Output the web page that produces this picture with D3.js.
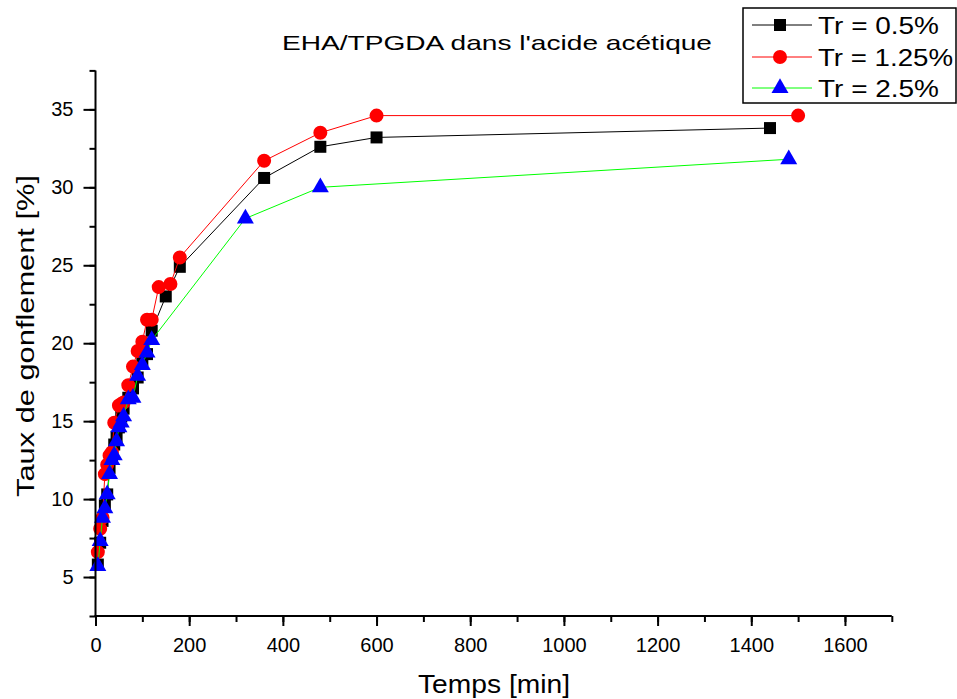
<!DOCTYPE html>
<html>
<head>
<meta charset="utf-8">
<script src="https://cdn.jsdelivr.net/npm/d3@7"></script>
<style>
  body { margin: 0; background: #fff; }
  text { font-family: "Liberation Sans", Arial, sans-serif; fill: #000; }
</style>
</head>
<body>
<svg id="chart" width="957" height="699"></svg>
<script>
// ---- data ----
const title = "EHA/TPGDA dans l'acide acétique";
const xLabel = "Temps [min]";
const yLabel = "Taux de gonflement [%]";
const seriesNames = ["Tr = 0.5%", "Tr = 1.25%", "Tr = 2.5%"];

const timeA = [5, 10, 15, 20, 25, 30, 35, 40, 45, 50, 55, 60, 70, 80, 90, 100, 110, 120, 150, 180, 360, 480, 600, 1440];
const valA  = [5.8, 7.2, 8.6, 9.6, 10.3, 12.0, 12.6, 13.5, 14.0, 14.6, 15.3, 15.8, 16.5, 17.1, 17.8, 18.9, 19.3, 20.8, 23.0, 24.9, 30.6, 32.6, 33.2, 33.8];

const timeB = [5, 10, 15, 20, 25, 30, 35, 40, 50, 55, 60, 70, 80, 90, 100, 110, 120, 135, 160, 180, 360, 480, 600, 1500];
const valB  = [6.6, 8.1, 8.8, 11.6, 12.2, 12.8, 13.0, 14.9, 16.0, 16.1, 16.2, 17.3, 18.5, 19.5, 20.1, 21.5, 21.5, 23.6, 23.8, 25.5, 31.7, 33.5, 34.6, 34.6];

const timeC = [5, 10, 15, 20, 25, 30, 35, 40, 45, 50, 55, 60, 70, 80, 90, 100, 110, 120, 320, 480, 1480];
const valC  = [5.7, 7.3, 8.8, 9.4, 10.3, 11.6, 12.5, 12.8, 13.7, 14.6, 14.9, 15.3, 16.4, 16.5, 17.9, 18.6, 19.4, 20.2, 28.0, 30.0, 31.8];

const xMajorTicks = [0, 200, 400, 600, 800, 1000, 1200, 1400, 1600];
const yMajorTicks = [5, 10, 15, 20, 25, 30, 35];

// ---- layout ----
const svg = d3.select("#chart");
const x = d3.scaleLinear().domain([0, 1700]).range([95.5, 891.8]);
const y = d3.scaleLinear().domain([2.5, 37.5]).range([616, 70.4]);

const series = [
  {name: seriesNames[0], t: timeA, v: valA, line: "#000000", fill: "#000000", sym: d3.symbolSquare, size: 144},
  {name: seriesNames[1], t: timeB, v: valB, line: "#ff0000", fill: "#ff0000", sym: d3.symbolCircle, size: 154},
  {name: seriesNames[2], t: timeC, v: valC, line: "#00ff00", fill: "#0000ff", sym: d3.symbolTriangle, size: 125}
];

// series
const lineGen = d3.line().x(d => x(d[0])).y(d => y(d[1]));
series.forEach(s => {
  const pts = s.t.map((t, i) => [t, s.v[i]]);
  const g = svg.append("g");
  g.append("path").attr("d", lineGen(pts)).attr("fill", "none")
    .attr("stroke", s.line).attr("stroke-width", 1);
  g.selectAll("path.m").data(pts).enter().append("path").attr("class", "m")
    .attr("d", d3.symbol().type(s.sym).size(s.size))
    .attr("transform", d => `translate(${x(d[0])},${y(d[1])})`)
    .attr("fill", s.fill);
});

// axes
function styleAxis(g) {
  g.select(".domain").remove();
  g.selectAll(".tick line").attr("stroke", "#000").attr("stroke-width", 2);
  g.selectAll(".tick text").style("font-size", "20px").style("font-family", "Liberation Sans, Arial, sans-serif");
}
const xMinor = d3.range(0, 1701, 100);
const yMinor = d3.range(2.5, 37.6, 2.5);

svg.append("g").attr("transform", "translate(0,616)")
  .call(d3.axisBottom(x).tickValues(xMinor).tickSize(6).tickFormat(""))
  .call(styleAxis);
svg.append("g").attr("transform", "translate(0,616)")
  .call(d3.axisBottom(x).tickValues(xMajorTicks).tickSize(10).tickPadding(12).tickFormat(d3.format("d")))
  .call(styleAxis);

svg.append("g").attr("transform", "translate(95.5,0)")
  .call(d3.axisLeft(y).tickValues(yMinor).tickSize(6).tickFormat(""))
  .call(styleAxis);
svg.append("g").attr("transform", "translate(95.5,0)")
  .call(d3.axisLeft(y).tickValues(yMajorTicks).tickSize(12).tickPadding(10).tickFormat(d3.format("d")))
  .call(styleAxis);

svg.append("line").attr("x1", x(0) - 1).attr("x2", x(1700)).attr("y1", 616).attr("y2", 616)
  .attr("stroke", "#000").attr("stroke-width", 2);
svg.append("line").attr("x1", 95.5).attr("x2", 95.5).attr("y1", y(37.5)).attr("y2", 617)
  .attr("stroke", "#000").attr("stroke-width", 2);

// titles
svg.append("text").attr("x", 497).attr("y", 50).attr("text-anchor", "middle")
  .style("font-size", "21px").attr("textLength", 430).attr("lengthAdjust", "spacingAndGlyphs")
  .text(title);
svg.append("text").attr("x", 494).attr("y", 693).attr("text-anchor", "middle")
  .style("font-size", "25px").attr("textLength", 152).attr("lengthAdjust", "spacingAndGlyphs")
  .text(xLabel);
svg.append("text").attr("transform", "translate(34,336) rotate(-90)").attr("text-anchor", "middle")
  .style("font-size", "23px").attr("textLength", 322).attr("lengthAdjust", "spacingAndGlyphs")
  .text(yLabel);

// legend
const lg = svg.append("g");
lg.append("rect").attr("x", 743).attr("y", 8).attr("width", 213).attr("height", 95)
  .attr("fill", "#fff").attr("stroke", "#000").attr("stroke-width", 1.5);
const rowY = [25, 57, 88];
const textLen = [121, 135, 121];
series.forEach((s, i) => {
  lg.append("line").attr("x1", 752).attr("x2", 812).attr("y1", rowY[i]).attr("y2", rowY[i])
    .attr("stroke", s.line).attr("stroke-width", 1);
  lg.append("path").attr("d", d3.symbol().type(s.sym).size(s.size))
    .attr("transform", `translate(780,${rowY[i]})`).attr("fill", s.fill);
  lg.append("text").attr("x", 818).attr("y", rowY[i] + 8.5)
    .style("font-size", "24px").attr("textLength", textLen[i]).attr("lengthAdjust", "spacingAndGlyphs")
    .text(s.name);
});
</script>
</body>
</html>
